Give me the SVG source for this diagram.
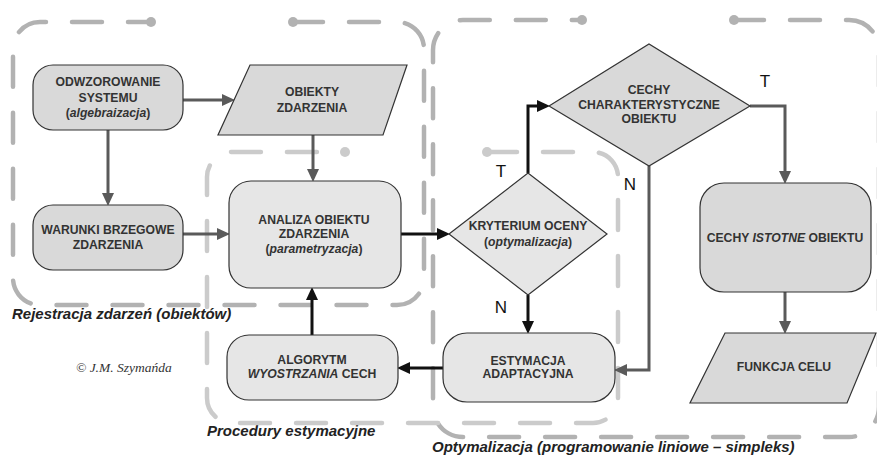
<svg xmlns="http://www.w3.org/2000/svg" width="877" height="455" viewBox="0 0 877 455">
<style>
.bg{fill:#ffffff}
.lbl{font-family:"Liberation Sans",Arial,sans-serif;font-weight:bold;font-style:italic;font-size:15px;fill:#222}
.copy{font-family:"Liberation Serif","Times New Roman",serif;font-style:italic;font-size:13.5px;fill:#333}
.zone{fill:none;stroke:#b2b2b2;stroke-width:4.5;stroke-dasharray:30 26;stroke-linecap:round}
.zone2{fill:none;stroke:#cbcbcb;stroke-width:4.5;stroke-dasharray:30 26;stroke-linecap:round}
.dot{fill:#b2b2b2}
.dot2{fill:#cbcbcb}
.dark{fill:#d9d9d9;stroke:#333;stroke-width:1.2}
.light{fill:#e6e6e6;stroke:#333;stroke-width:1.2}
.t{font-family:"Liberation Sans",Arial,sans-serif;font-weight:bold;font-size:12.2px;fill:#333;text-anchor:middle}
.i{font-style:italic}
.yn{font-family:"Liberation Sans",Arial,sans-serif;font-size:17px;fill:#111;text-anchor:middle}
.cg{fill:none;stroke:#5a5a5a;stroke-width:3}
.cb{fill:none;stroke:#111;stroke-width:3}
</style>
<defs>
<marker id="ag" markerUnits="userSpaceOnUse" markerWidth="13" markerHeight="13" refX="8" refY="6" orient="auto">
<path d="M0,0 L13,6 L0,12 z" fill="#5a5a5a"/>
</marker>
<marker id="ab" markerUnits="userSpaceOnUse" markerWidth="13" markerHeight="13" refX="8" refY="6" orient="auto">
<path d="M0,0 L13,6 L0,12 z" fill="#111"/>
</marker>
</defs>
<rect class="bg" x="0" y="0" width="877" height="455"/>

<g id="labels">
<text class="lbl" x="12" y="319">Rejestracja zdarzeń (obiektów)</text>
<text class="lbl" x="207" y="436">Procedury estymacyjne</text>
<text class="lbl" x="432" y="452">Optymalizacja (programowanie liniowe – simpleks)</text>
<text class="copy" x="76" y="372">© J.M. Szymańda</text>
</g>

<g id="zones">
<path class="zone" d="M293,22 H397 A27,27 0 0 1 424,49 V278 A27,27 0 0 1 397,305 H40 A27,27 0 0 1 13,278 V49 A27,27 0 0 1 40,22 H151"/>
<circle class="dot" cx="151" cy="22" r="5"/>
<circle class="dot" cx="293" cy="22" r="5"/>
<path class="zone" d="M734,20 H849 A30,30 0 0 1 879,50 V407 A30,30 0 0 1 849,437 H463 A30,30 0 0 1 433,407 V50 A30,30 0 0 1 463,20 H582"/>
<circle class="dot" cx="582" cy="20" r="5"/>
<circle class="dot" cx="734" cy="20" r="5"/>
<path class="zone2" d="M487,152 H593 A25,25 0 0 1 618,177 V398 A25,25 0 0 1 593,423 H232 A25,25 0 0 1 207,398 V177 A25,25 0 0 1 232,152 H345"/>
<circle class="dot2" cx="345" cy="152" r="5"/>
<circle class="dot2" cx="487" cy="152" r="5"/>
</g>

<g id="connectors">
<path class="cg" d="M183,100 H230" marker-end="url(#ag)"/>
<path class="cg" d="M108,130 V201" marker-end="url(#ag)"/>
<path class="cg" d="M313,135 V177" marker-end="url(#ag)"/>
<path class="cg" d="M183,234 H225" marker-end="url(#ag)"/>
<path class="cb" d="M401,234 H445" marker-end="url(#ab)"/>
<path class="cb" d="M528,173 V106 H545" marker-end="url(#ab)"/>
<path class="cg" d="M750,106 H785 V179" marker-end="url(#ag)"/>
<path class="cg" d="M649,166 V370 H619" marker-end="url(#ag)"/>
<path class="cb" d="M528,295 V329" marker-end="url(#ab)"/>
<path class="cb" d="M443,368 H402" marker-end="url(#ab)"/>
<path class="cb" d="M312,335 V292" marker-end="url(#ab)"/>
<path class="cg" d="M785,292 V329" marker-end="url(#ag)"/>
<text class="yn" x="501" y="177">T</text>
<text class="yn" x="501" y="313">N</text>
<text class="yn" x="630" y="190">N</text>
<text class="yn" x="765" y="87">T</text>
</g>

<g id="odwzorowanie">
<rect class="dark" x="33" y="65" width="150" height="65" rx="20"/>
<text class="t" x="108" y="86">ODWZOROWANIE</text>
<text class="t" x="108" y="102">SYSTEMU</text>
<text class="t" x="108" y="117">(<tspan class="i">algebraizacja</tspan>)</text>
</g>

<g id="obiekty">
<polygon class="dark" points="250,65 407,65 383,135 218,135"/>
<text class="t" x="312" y="96">OBIEKTY</text>
<text class="t" x="312" y="112">ZDARZENIA</text>
</g>

<g id="warunki">
<rect class="dark" x="33" y="205" width="150" height="65" rx="20"/>
<text class="t" x="108" y="234">WARUNKI BRZEGOWE</text>
<text class="t" x="108" y="249">ZDARZENIA</text>
</g>

<g id="analiza">
<rect class="light" x="229" y="181" width="172" height="107" rx="22"/>
<text class="t" x="314" y="224">ANALIZA OBIEKTU</text>
<text class="t" x="314" y="238">ZDARZENIA</text>
<text class="t" x="314" y="253">(<tspan class="i">parametryzacja</tspan>)</text>
</g>

<g id="kryterium">
<polygon class="light" points="449,234 528,173 607,234 528,295"/>
<text class="t" x="528" y="230">KRYTERIUM OCENY</text>
<text class="t" x="528" y="246">(<tspan class="i">optymalizacja</tspan>)</text>
</g>

<g id="cechy">
<polygon class="dark" points="549,106 649,44 750,106 649,166"/>
<text class="t" x="649" y="94">CECHY</text>
<text class="t" x="649" y="109">CHARAKTERYSTYCZNE</text>
<text class="t" x="649" y="123">OBIEKTU</text>
</g>

<g id="cechy-istotne">
<rect class="dark" x="700" y="183" width="171" height="109" rx="24"/>
<text class="t" x="785" y="242">CECHY <tspan class="i">ISTOTNE</tspan> OBIEKTU</text>
</g>

<g id="funkcja-celu">
<polygon class="dark" points="725,333 876,333 847,403 690,403"/>
<text class="t" x="784" y="371">FUNKCJA CELU</text>
</g>

<g id="estymacja">
<rect class="light" x="443" y="333" width="172" height="69" rx="24"/>
<text class="t" x="528" y="365">ESTYMACJA</text>
<text class="t" x="528" y="378">ADAPTACYJNA</text>
</g>

<g id="algorytm">
<rect class="light" x="227" y="335" width="171" height="65" rx="22"/>
<text class="t" x="312" y="364">ALGORYTM</text>
<text class="t" x="312" y="378"><tspan class="i">WYOSTRZANIA</tspan> CECH</text>
</g>
</svg>
